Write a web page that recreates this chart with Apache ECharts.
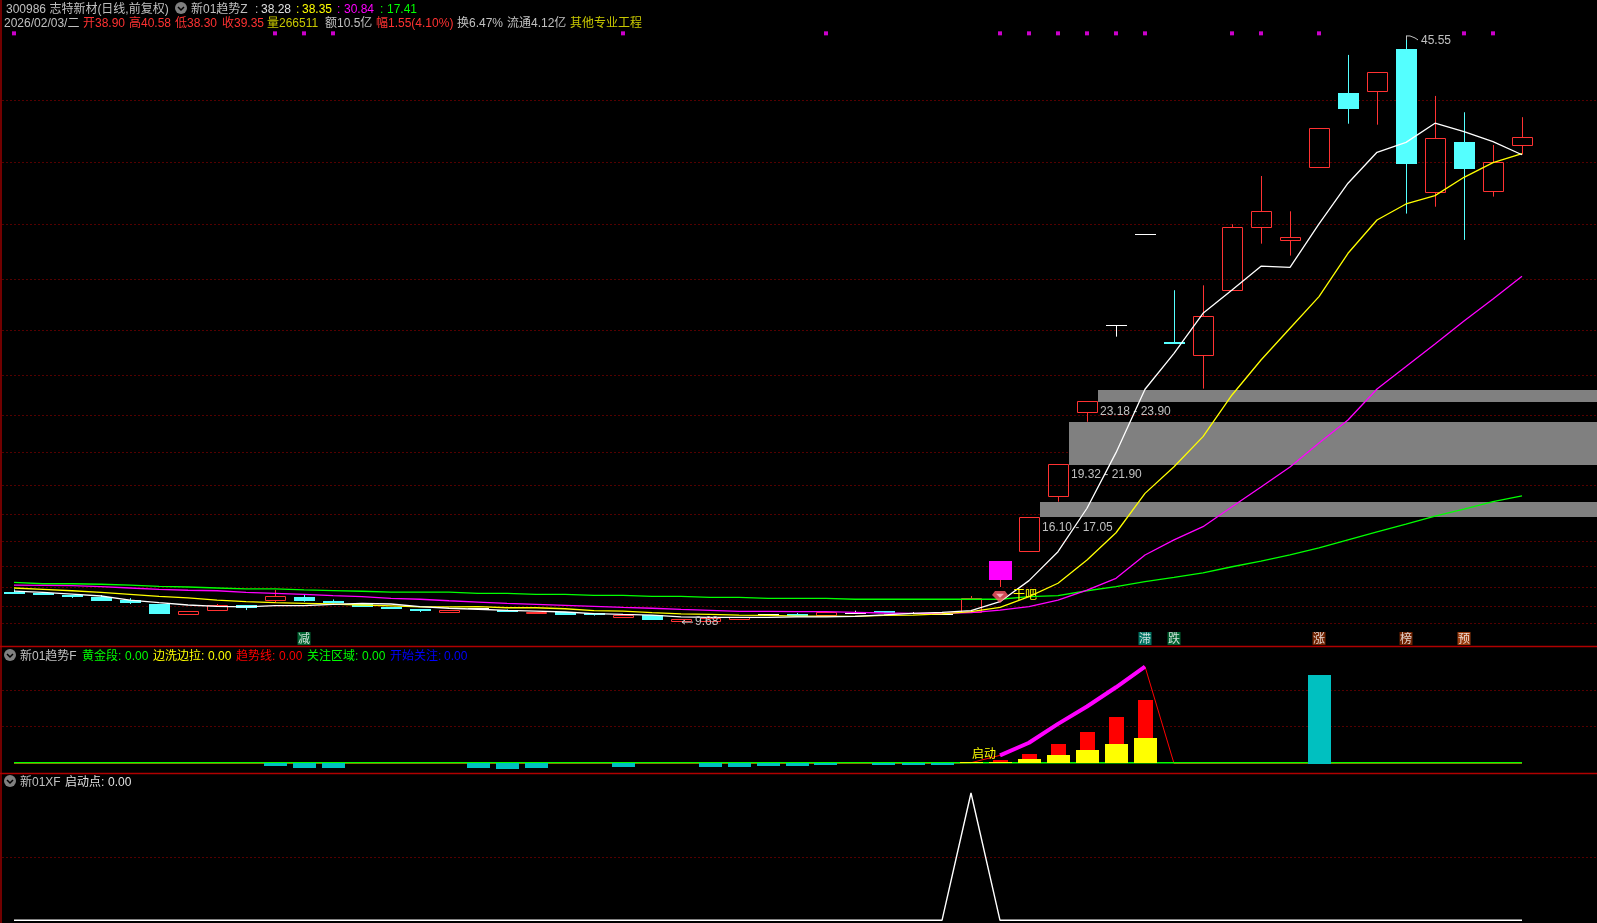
<!DOCTYPE html>
<html><head><meta charset="utf-8">
<style>html,body{margin:0;padding:0;background:#000;overflow:hidden}#c{width:1597px;height:923px}</style>
<script src="https://cdn.jsdelivr.net/npm/echarts@6/dist/echarts.min.js"></script>
</head><body><div id="c"></div>
<script>
const slotCount = 56;
const categories = Array.from({length: slotCount}, (_, i) => String(i));
const opens  = [11.52,11.46,11.34,11.22,11.03,10.79,10.20,10.42,10.73,11.03,11.22,10.97,10.79,10.61,10.48,10.30,10.55,10.40,10.24,10.32,10.22,9.99,10.11,9.75,9.75,9.87,10.15,10.18,10.12,10.25,10.35,10.22,10.18,10.30,12.26,14.01,17.42,22.52,27.87,33.41,26.80,26.01,29.99,33.84,33.08,37.51,42.04,42.20,44.75,36.02,39.06,36.08,38.90];
const closes = [11.45,11.34,11.22,10.97,10.85,10.18,10.36,10.71,10.53,11.28,10.97,10.89,10.61,10.48,10.36,10.42,10.55,10.32,10.32,10.12,10.14,10.11,9.81,9.87,9.93,10.00,10.15,10.10,10.32,10.25,10.25,10.22,10.18,11.14,13.42,16.11,19.34,23.19,27.87,33.41,26.72,28.40,33.84,34.82,33.23,39.90,41.10,43.33,37.74,39.29,37.43,37.82,39.35];
const lows   = [11.45,11.34,11.16,10.95,10.79,10.18,10.20,10.37,10.42,10.87,10.93,10.83,10.61,10.48,10.30,10.30,10.55,10.32,10.20,10.12,10.08,9.99,9.81,9.68,9.75,9.87,10.11,10.10,10.12,10.25,10.25,10.22,10.15,10.30,11.83,14.01,17.05,21.94,27.15,33.41,26.72,23.97,29.99,32.84,32.11,37.51,40.18,40.12,34.68,35.10,33.07,35.72,38.30];
const highs  = [11.69,11.46,11.34,11.34,11.15,10.79,10.36,10.79,10.73,11.65,11.40,11.07,10.79,10.61,10.48,10.42,10.55,10.46,10.32,10.32,10.22,10.11,10.11,9.87,9.93,10.00,10.18,10.24,10.32,10.38,10.35,10.30,10.24,11.28,13.42,16.11,19.34,23.19,27.87,33.41,29.99,30.29,34.03,36.98,34.82,39.90,44.39,43.33,45.55,41.88,40.88,38.88,40.58];
const maWhite   = [11.58,11.50,11.40,11.28,11.03,10.87,10.73,10.65,10.61,10.69,10.69,10.77,10.83,10.79,10.63,10.53,10.47,10.40,10.36,10.30,10.20,10.15,10.11,10.00,9.97,9.97,9.97,10.00,10.00,10.03,10.12,10.22,10.28,10.38,10.93,12.22,13.99,16.65,20.05,23.93,26.13,28.58,30.01,31.46,31.39,34.05,36.54,38.43,39.04,40.21,39.69,39.08,38.28];
const maYellow  = [11.77,11.69,11.60,11.50,11.38,11.26,11.17,11.03,10.93,10.87,10.83,10.79,10.73,10.67,10.61,10.61,10.63,10.56,10.56,10.50,10.38,10.36,10.26,10.18,10.16,10.11,10.09,10.05,10.05,10.03,10.09,10.11,10.18,10.32,10.58,11.24,12.06,13.48,15.15,17.56,19.19,21.03,23.58,25.72,27.66,29.60,32.25,34.29,35.27,35.78,36.90,37.80,38.35];
const maMagenta = [11.95,11.93,11.91,11.85,11.77,11.69,11.63,11.60,11.50,11.44,11.38,11.30,11.24,11.14,11.08,10.99,10.91,10.83,10.77,10.71,10.65,10.58,10.53,10.46,10.40,10.34,10.34,10.32,10.32,10.28,10.24,10.22,10.22,10.26,10.42,10.63,11.03,11.64,12.36,13.79,14.71,15.52,16.74,17.95,19.17,20.64,22.05,23.95,25.32,26.70,28.11,29.45,30.84];
const maGreen   = [12.11,12.03,12.03,12.00,11.95,11.87,11.83,11.77,11.71,11.71,11.65,11.61,11.57,11.52,11.52,11.52,11.44,11.44,11.38,11.38,11.32,11.32,11.26,11.26,11.20,11.20,11.14,11.14,11.14,11.08,11.08,11.08,11.08,11.09,11.08,11.24,11.30,11.60,11.85,12.16,12.42,12.70,13.07,13.42,13.79,14.22,14.71,15.20,15.68,16.17,16.60,17.05,17.41];
const gridPrices = [41.63,37.84,34.04,30.68,27.56,24.80,22.36,20.09,18.07,16.30,14.64,13.11,11.83,10.67,9.63];
const bandStarts = [35,36,37];
const bandLows   = [16.10,19.32,23.18];
const bandHighs  = [17.05,21.90,23.90];
const signalDots = [0,9,10,11,21,28,34,35,36,37,38,39,42,43,45,50,51];
const tagSlots = [10,39,40,45,48,50];
const tagChars = ['减','滞','跌','涨','榜','预'];
const tagColors = ['#007a3c','#00907c','#007a3c','#8c2a00','#8c2a00','#c04a10'];
const trendGold  = [0,0,0,0,0,0,0,0,0,0,0,0,0,0,0,0,0,0,0,0,0,0,0,0,0,0,0,0,0,0,0,0,0,0.03,0.05,0.12,0.23,0.36,0.52,0.69];
const trendRed   = [0,0,0,0,0,0,0,0,0,0,0,0,0,0,0,0,0,0,0,0,0,0,0,0,0,0,0,0,0,0,0,0,0,0.05,0.09,0.25,0.53,0.85,1.25,1.72];
const cyanBars   = [0,0,0,0,0,0,0,0,0,-0.07,-0.12,-0.12,0,0,0,0,-0.12,-0.15,-0.12,0,0,-0.10,0,0,-0.10,-0.10,-0.08,-0.08,-0.05,0,-0.04,-0.04,-0.04,0,0,0,0,0,0,0,0,0,0,0,0,2.39];
const trendLine  = [0,0,0,0,0,0,0,0,0,0,0,0,0,0,0,0,0,0,0,0,0,0,0,0,0,0,0,0,0,0,0,0,0,0.02,0.22,0.56,1.07,1.54,2.06,2.62,0,0,0,0,0,0,0,0,0,0,0,0,0];
const boldLine   = [null,null,null,null,null,null,null,null,null,null,null,null,null,null,null,null,null,null,null,null,null,null,null,null,null,null,null,null,null,null,null,null,null,null,0.22,0.56,1.07,1.54,2.06,2.62];
const zeroLine   = [0.02,0.02,0.02,0.02,0.02,0.02,0.02,0.02,0.02,0.02,0.02,0.02,0.02,0.02,0.02,0.02,0.02,0.02,0.02,0.02,0.02,0.02,0.02,0.02,0.02,0.02,0.02,0.02,0.02,0.02,0.02,0.02,0.02,0.02,0.02,0.02,0.02,0.02,0.02,0.02,0.02,0.02,0.02,0.02,0.02,0.02,0.02,0.02,0.02,0.02,0.02,0.02,0.02];
const startLine  = [0,0,0,0,0,0,0,0,0,0,0,0,0,0,0,0,0,0,0,0,0,0,0,0,0,0,0,0,0,0,0,0,0,1,0,0,0,0,0,0,0,0,0,0,0,0,0,0,0,0,0,0,0];
const magentaSlot = 34;

const FONT = "12px 'Liberation Sans','Noto Sans CJK SC'";
const GRAY = '#c0c0c0', RED = '#ff3232', CYAN = '#54ffff';
const row1 = [['300986 志特新材(日线,前复权)',6,GRAY],['新01趋势Z',191,GRAY],[':',255,GRAY],['38.28',261,'#e0e0e0'],[':',296,'#ffff00'],['38.35',302,'#ffff00'],[':',337,'#ff00ff'],['30.84',344,'#ff00ff'],[':',380,'#00ff00'],['17.41',387,'#00ff00']];
const row2 = [['2026/02/03/二',4,GRAY],['开38.90',83,RED],['高40.58',129,RED],['低38.30',175,RED],['收39.35',222,RED],['量266511',267,'#c8c800'],['额10.5亿',325,GRAY],['幅1.55(4.10%)',376,RED],['换6.47%',457,GRAY],['流通4.12亿',507,GRAY],['其他专业工程',570,'#c8c800']];
const row3 = [['新01趋势F',20,GRAY],['黄金段:',82,'#00ff00'],['0.00',125,'#00ff00'],['边洗边拉:',153,'#ffff00'],['0.00',208,'#ffff00'],['趋势线:',236,'#ff0000'],['0.00',279,'#ff0000'],['关注区域:',307,'#00ff00'],['0.00',362,'#00ff00'],['开始关注:',390,'#0000ff'],['0.00',444,'#0000ff']];
const row4 = [['新01XF',20,GRAY],['启动点:',65,'#e0e0e0'],['0.00',108,'#e0e0e0']];

const graphics = [];
function textRow(list, y){ list.forEach(s => graphics.push({type:'text',x:s[1],y:y,silent:true,style:{text:s[0],fill:s[2],font:FONT,verticalAlign:'middle',textVerticalAlign:'middle'}})); }
function icon(x,y){
  graphics.push({type:'circle',shape:{cx:x,cy:y,r:6},style:{fill:'#808080'},silent:true});
  graphics.push({type:'polyline',shape:{points:[[x-3,y-1],[x,y+2],[x+3,y-1]]},style:{stroke:'#000',lineWidth:1.5,fill:null},silent:true});
}
textRow(row1,9.5); textRow(row2,23.5); textRow(row3,657); textRow(row4,783);
icon(181,8); icon(10,655); icon(10,781);
[[0,646.5,1597,646.5],[0,773.5,1597,773.5],[1,0,1,923]].forEach(l => graphics.push({type:'line',silent:true,shape:{x1:l[0],y1:l[1],x2:l[2],y2:l[3]},style:{stroke:'#b00000',lineWidth:1.3}}));

function dotted(values, axis){
  return {type:'custom',xAxisIndex:axis,yAxisIndex:axis,silent:true,z:1,clip:false,data:values.map(v=>[0,v]),encode:{x:0,y:1},
    renderItem:(p,api)=>{const y=Math.round(api.coord([0,api.value(1)])[1])+.5;
      return {type:'line',shape:{x1:p.coordSys.x+3,y1:y,x2:p.coordSys.x+p.coordSys.width,y2:y},style:{stroke:'#a80000',lineWidth:1,lineDash:[1,3]}};}};
}
function line(values,color,width,axis,z){
  return {type:'line',xAxisIndex:axis,yAxisIndex:axis,data:values,showSymbol:false,symbol:'none',silent:true,z:z||5,connectNulls:false,lineStyle:{color:color,width:width}};
}
function bars(values,color,w,z){
  return {type:'custom',xAxisIndex:1,yAxisIndex:1,silent:true,z:z,data:values.map((v,i)=>[i,v]).filter(d=>d[1]!==0),encode:{x:0,y:1},
    renderItem:(p,api)=>{const c=api.coord([api.value(0),api.value(1)]),b=api.coord([api.value(0),0]);
      const x=Math.round(c[0]-w/2),y1=Math.round(Math.min(c[1],b[1])),y2=Math.round(Math.max(c[1],b[1]));
      return {type:'rect',shape:{x:x,y:y1,width:w,height:Math.max(1,y2-y1)+(values===cyanBars&&api.value(1)>0?1:0)},style:{fill:color}};}};
}
function candleItem(p,api){
  const i=api.value(0),o=api.value(1),c=api.value(2),l=api.value(3),h=api.value(4);
  const cx=api.coord([i,o])[0];
  const Y=v=>api.coord([i,v])[1];
  const top=Math.round(Y(Math.max(o,c))),bot=Math.round(Y(Math.min(o,c)));
  const wx=cx+.5, kids=[];
  const col=i===magentaSlot?RED:(c>o?RED:(c<o?CYAN:'#ffffff'));
  const ly=Y(l),hy=Y(h);
  if(hy<top-.5)kids.push({type:'line',shape:{x1:wx,y1:hy,x2:wx,y2:top},style:{stroke:col,lineWidth:1}});
  if(ly>bot+.5)kids.push({type:'line',shape:{x1:wx,y1:bot,x2:wx,y2:ly},style:{stroke:col,lineWidth:1}});
  if(i===magentaSlot){kids.push({type:'rect',shape:{x:cx-11,y:top,width:23,height:bot-top},style:{fill:'#ff00ff'}});}
  else if(c>o){kids.push({type:'rect',shape:{x:cx-10+.5,y:top+.5,width:20,height:Math.max(1,bot-top)},style:{fill:'none',stroke:RED,lineWidth:1}});}
  else if(c<o){kids.push({type:'rect',shape:{x:cx-10,y:top,width:21,height:Math.max(2,bot-top)},style:{fill:CYAN}});}
  else{kids.push({type:'line',shape:{x1:cx-10,y1:top+.5,x2:cx+11,y2:top+.5},style:{stroke:'#fff',lineWidth:1}});}
  return {type:'group',children:kids};
}
function bandItem(p,api){
  const k=api.value(0),lo=api.value(1),hi=api.value(2);
  const a=api.coord([k,hi]),b=api.coord([k,lo]);
  const x=Math.round(a[0]+10.5),x2=p.coordSys.x+p.coordSys.width;
  return {type:'group',children:[
    {type:'rect',shape:{x:x,y:Math.round(a[1]),width:x2-x,height:Math.round(b[1])-Math.round(a[1])},style:{fill:'#808080'}},
    {type:'text',z2:30,style:{x:x+2,y:b[1]+10,text:lo.toFixed(2)+' - '+hi.toFixed(2),fill:GRAY,font:FONT,align:'left',verticalAlign:'middle'}}
  ]};
}
function peakItem(p,api){
  const c=api.coord([api.value(0),api.value(1)]);
  return {type:'group',children:[
    {type:'polyline',shape:{points:[[c[0],c[1]],[c[0]+4,c[1]],[c[0]+9,c[1]+2],[c[0]+12,c[1]+4]]},style:{stroke:GRAY,lineWidth:1,fill:null}},
    {type:'line',shape:{x1:c[0]+.5,y1:c[1],x2:c[0]+.5,y2:c[1]+4},style:{stroke:GRAY,lineWidth:1}},
    {type:'text',style:{x:c[0]+15,y:c[1]+5,text:api.value(1).toFixed(2),fill:GRAY,font:FONT,align:'left',verticalAlign:'middle'}}
  ]};
}
function lowItem(p,api){
  const c=api.coord([api.value(0),api.value(1)]);
  return {type:'group',children:[
    {type:'polyline',shape:{points:[[c[0]+12,c[1]],[c[0]+1,c[1]],[c[0]+4,c[1]-2],[c[0]+1,c[1]],[c[0]+4,c[1]+2]]},style:{stroke:GRAY,lineWidth:1,fill:null}},
    {type:'text',style:{x:c[0]+14,y:c[1],text:api.value(1).toFixed(2),fill:GRAY,font:FONT,align:'left',verticalAlign:'middle'}}
  ]};
}
function note(text,k,value,axis,dx,color){
  return {type:'custom',xAxisIndex:axis,yAxisIndex:axis,silent:true,z:9,clip:false,data:[[k,value]],encode:{x:0,y:1},
    renderItem:(p,api)=>{const c=api.coord([api.value(0),api.value(1)]);
      return {type:'text',style:{x:c[0]+dx,y:c[1],text:text,fill:color,font:FONT,align:'left',verticalAlign:'middle'}};}};
}

const option = {
  backgroundColor:'#000', animation:false,
  grid:[
    {left:-0.5,top:0,width:29*slotCount,height:646,outerBoundsMode:'none'},
    {left:-0.5,top:646,width:29*slotCount,height:127,outerBoundsMode:'none'},
    {left:-0.5,top:773,width:29*slotCount,height:150,outerBoundsMode:'none'}
  ],
  xAxis:[0,1,2].map(i=>({type:'category',gridIndex:i,data:categories,show:false,boundaryGap:true})),
  yAxis:[
    {type:'value',gridIndex:0,min:8.22,max:47.75,show:false,scale:true},
    {type:'value',gridIndex:1,min:-0.257,max:3.176,show:false,scale:true},
    {type:'value',gridIndex:2,min:-0.0212,max:1.157,show:false,scale:true}
  ],
  graphic:{elements:graphics},
  series:[
    dotted(gridPrices,0),
    {type:'custom',xAxisIndex:0,yAxisIndex:0,silent:true,z:2,clip:false,data:bandStarts.map((k,i)=>[k,bandLows[i],bandHighs[i]]),encode:{x:0,y:[1,2]},renderItem:bandItem},
    {type:'custom',xAxisIndex:0,yAxisIndex:0,silent:true,z:3,data:opens.map((o,i)=>[i,o,closes[i],lows[i],highs[i]]),encode:{x:0,y:[1,2,3,4]},renderItem:candleItem},
    line(maGreen,'#00ff00',1.3,0),
    line(maMagenta,'#ff00ff',1.3,0),
    line(maYellow,'#ffff00',1.3,0),
    line(maWhite,'#ffffff',1.3,0),
    {type:'scatter',xAxisIndex:0,yAxisIndex:0,silent:true,z:6,symbol:'rect',symbolSize:4,itemStyle:{color:'#ff00ff'},data:signalDots.map(k=>[k,45.71])},
    {type:'scatter',xAxisIndex:0,yAxisIndex:0,silent:true,z:6,symbol:'rect',symbolSize:13,
      data:tagSlots.map((k,i)=>({value:[k,8.68],itemStyle:{color:tagColors[i]},label:{show:true,position:'inside',formatter:tagChars[i],color:'#fff',fontSize:12,fontFamily:"'Noto Sans CJK SC'"}}))},
    {type:'scatter',xAxisIndex:0,yAxisIndex:0,silent:true,z:7,symbol:'path://M3,0 L13,0 L16,4 L8,12 L0,4 Z',symbolSize:[16,12],itemStyle:{color:'#ff5c6c'},data:[[magentaSlot,11.22]]},
    {type:'scatter',xAxisIndex:0,yAxisIndex:0,silent:true,z:8,symbol:'path://M0,0 L10,0 L5,6 Z',symbolSize:[8,4],itemStyle:{color:'#ffc8d0'},data:[[magentaSlot,11.29]]},
    note('干吧',magentaSlot,11.27,0,13,'#ffff00'),
    {type:'custom',xAxisIndex:0,yAxisIndex:0,silent:true,z:9,clip:false,data:[[48,45.55]],encode:{x:0,y:1},renderItem:peakItem},
    {type:'custom',xAxisIndex:0,yAxisIndex:0,silent:true,z:9,clip:false,data:[[23,9.68]],encode:{x:0,y:1},renderItem:lowItem},

    dotted([1,2],1),
    line(trendLine,'#ff0000',1,1,3),
    line(zeroLine,'#00ff00',1.6,1,4),
    bars(trendRed,'#ff0000',15,5),
    bars(trendGold,'#ffff00',23,6),
    bars(cyanBars,'#00c0c0',23,7),
    line(boldLine,'#ff00ff',4,1,8),
    note('启动',33,0.24,1,1,'#ffff00'),

    dotted([0.5],2),
    line(startLine,'#ffffff',1.4,2)
  ]
};
const chart = echarts.init(document.getElementById('c'),null,{renderer:'canvas',width:1597,height:923});
chart.setOption(option);
</script></body></html>
